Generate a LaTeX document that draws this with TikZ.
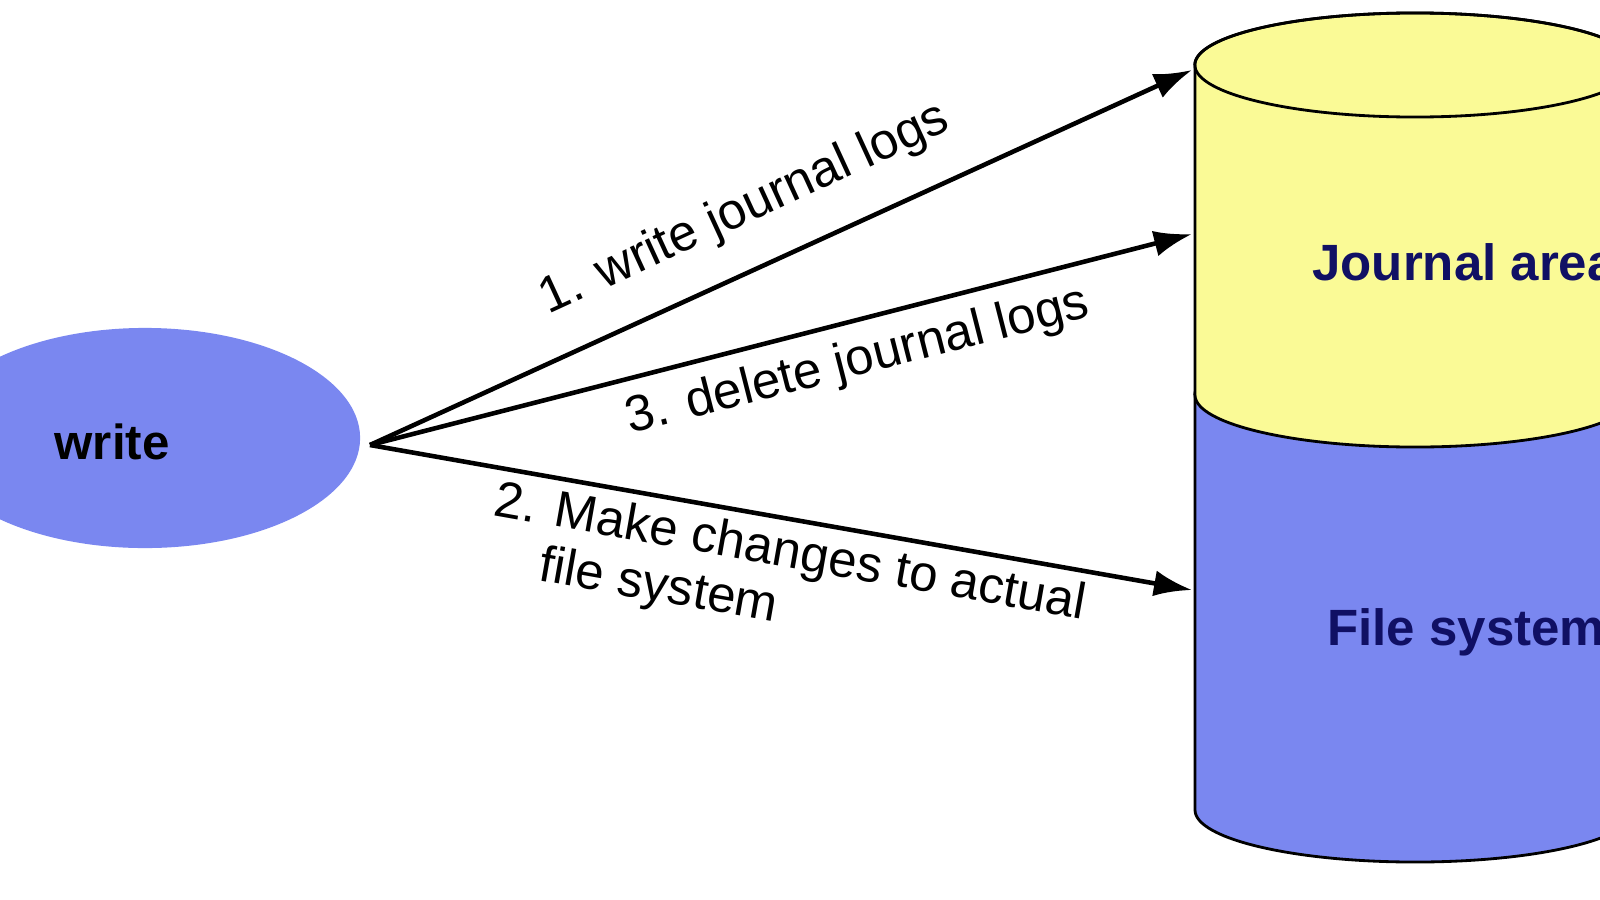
\documentclass[tikz,border=0pt]{standalone}
\usepackage{fontspec}
\setmainfont{Liberation Sans}
\usetikzlibrary{arrows.meta,shapes.geometric}
\definecolor{eblue}{RGB}{122,135,240}
\definecolor{jyel}{RGB}{250,250,150}
\definecolor{navy}{RGB}{16,16,100}
\begin{document}
\begin{tikzpicture}[x=0.01cm,y=-0.01cm,
  arr/.style={-{Latex[length=3.8mm,width=2.6mm]},line width=1.3pt},
  lab/.style={font=\fontsize{14.5}{16}\selectfont,align=left},
  cyl/.style={font=\fontsize{14.5}{16}\selectfont\bfseries,text=navy}]
\useasboundingbox (0,0) rectangle (1600,900);
\begin{scope}
\clip (0,0) rectangle (1600,900);
\node[ellipse,draw=none,fill=eblue,minimum width=4.3cm,minimum height=2.2cm,inner sep=0] (w) at (145,438) {};
\node[font=\fontsize{14}{16}\selectfont\bfseries] (wt) at (112,442) {write};
% cylinder
\fill[eblue,draw=black,line width=0.8pt] (1195,395) -- (1195,810) arc[start angle=180,end angle=360,x radius=2.2cm,y radius=0.52cm] -- (1635,395) arc[start angle=0,end angle=-180,x radius=2.2cm,y radius=-0.52cm];
\fill[jyel,draw=black,line width=0.8pt] (1195,65) -- (1195,395) arc[start angle=180,end angle=360,x radius=2.2cm,y radius=0.52cm] -- (1635,65) arc[start angle=0,end angle=180,x radius=2.2cm,y radius=0.52cm];
\draw[line width=0.8pt] (1415,65) ellipse[x radius=2.2cm,y radius=0.52cm];
\coordinate (t1) at (1192,70);
\coordinate (t3) at (1192,234);
\coordinate (t2) at (1192,590);
\node[cyl,anchor=west] (ja) at (1300,262) {Journal area};
\node[cyl,anchor=west] (fs) at (1315,632) {File system};
\end{scope}
\coordinate (s) at (370,445);
\draw[arr] (s) -- (t1);
\draw[arr] (s) -- (t3);
\draw[arr] (s) -- (t2);
\node[lab,rotate=24.7] (l1) at (745,210) {1. write journal logs};
\node[lab,rotate=14.3] (l3) at (858,362) {3. delete journal logs};
\node[lab,rotate=-10] (l2) at (785,582) {2. Make changes to actual\\\hspace*{1.1em}file system};
\end{tikzpicture}
\end{document}
